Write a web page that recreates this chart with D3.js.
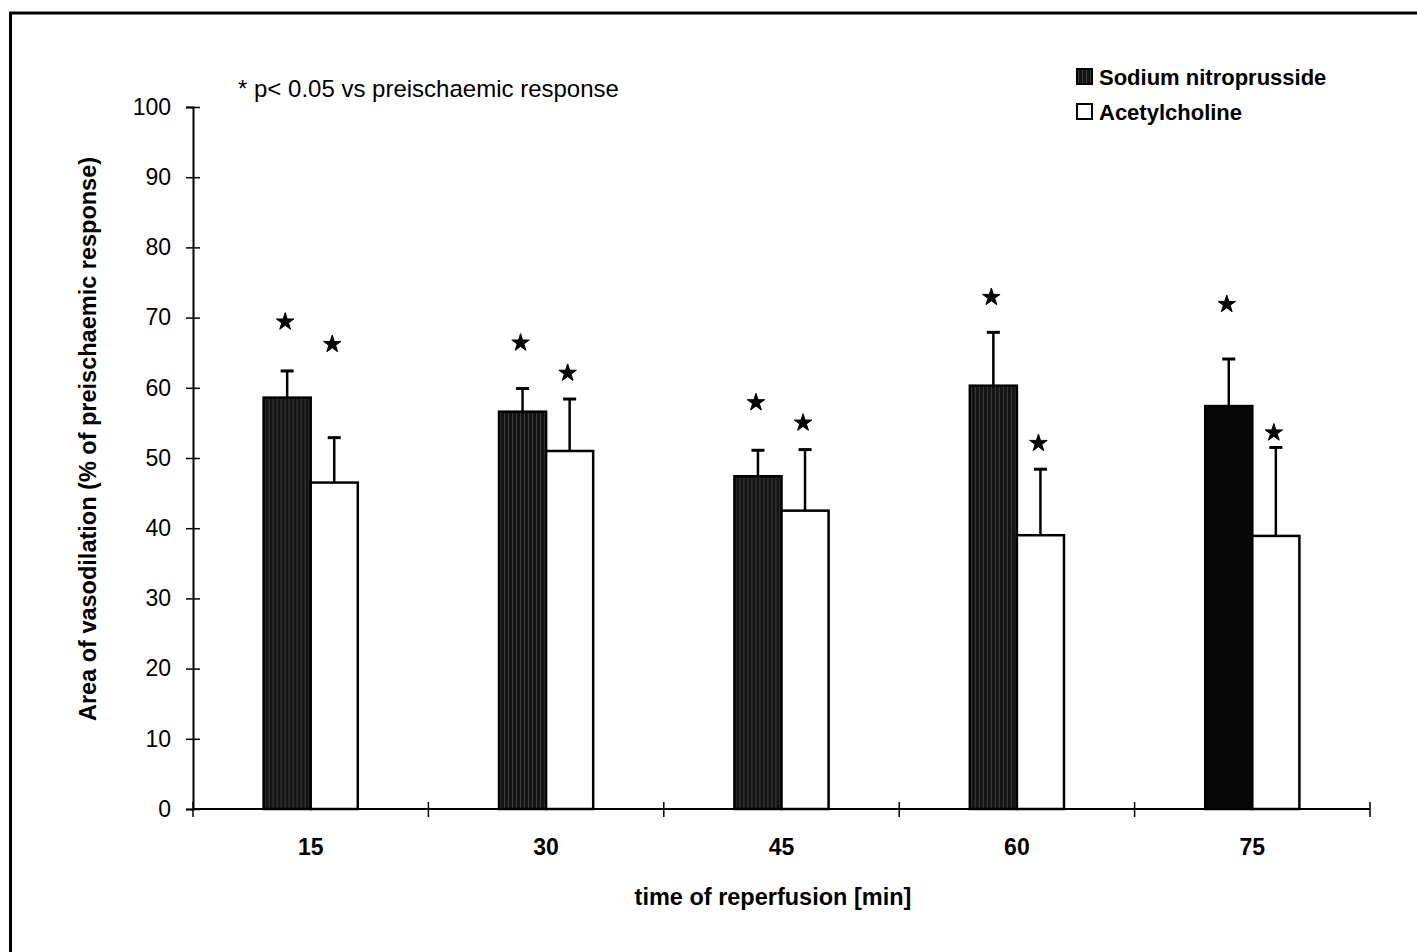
<!DOCTYPE html>
<html>
<head>
<meta charset="utf-8">
<script src="https://cdn.jsdelivr.net/npm/d3@7"></script>
<style>
  body { margin: 0; background: #fff; }
  svg { display: block; font-family: "Liberation Sans", Arial, sans-serif; }
</style>
</head>
<body>
<div id="chart"></div>
<script>
// values
var times = ["15", "30", "45", "60", "75"];
var seriesNames = ["Sodium nitroprusside", "Acetylcholine"];
var snpMean = [58.6, 56.6, 47.4, 60.3, 57.4];
var snpErr  = [62.4, 59.9, 51.1, 67.9, 64.1];   // top of error bar
var achMean = [46.5, 51.0, 42.5, 39.0, 38.9];
var achErr  = [52.9, 58.4, 51.2, 48.4, 51.5];
// where the significance stars sit (in % units)
var snpStar = [69.4, 66.4, 57.9, 72.9, 71.9];
var achStar = [66.2, 62.1, 55.0, 52.1, 53.6];
var yTicks = [0, 10, 20, 30, 40, 50, 60, 70, 80, 90, 100];

function drawChart(){
  var W = 1417, H = 952;
  var svg = d3.select("#chart").append("svg")
    .attr("width", W)
    .attr("height", H);

  // stripey dark fill like the scan
  var defs = svg.append("defs");
  var pat = defs.append("pattern")
    .attr("id", "snpFill")
    .attr("patternUnits", "userSpaceOnUse")
    .attr("width", 4).attr("height", 6);
  pat.append("rect").attr("width", 4).attr("height", 6).attr("fill", "#141414");
  pat.append("line").attr("x1", 1.5).attr("x2", 1.5).attr("y1", 0).attr("y2", 6)
    .attr("stroke", "#3d3d3d").attr("stroke-width", 1);

  // frame (top + left edge of the scanned box)
  svg.append("line").attr("x1", 9).attr("x2", W).attr("y1", 13).attr("y2", 13)
    .attr("stroke", "#000").attr("stroke-width", 3);
  svg.append("line").attr("x1", 10.5).attr("x2", 10.5).attr("y1", 12).attr("y2", H)
    .attr("stroke", "#000").attr("stroke-width", 3);

  var x0 = d3.scaleBand().domain(times).range([193, 1370]).padding(0);
  var y = d3.scaleLinear().domain([0, 100]).range([809, 107]);
  var barW = x0.bandwidth() / 5;   // excel gap width 300%

  var data = times.map(function(t, i){
    return {t: t, i: i,
      vals: [
        {s: 0, mean: snpMean[i], err: snpErr[i], star: snpStar[i]},
        {s: 1, mean: achMean[i], err: achErr[i], star: achStar[i]}
      ]};
  });

  // y axis
  var yAxis = svg.append("g")
    .attr("transform", "translate(193,0)")
    .call(d3.axisLeft(y).tickValues(yTicks).tickSize(7).tickPadding(15));
  yAxis.select(".domain").attr("stroke-width", 2);
  yAxis.selectAll(".tick line").attr("x2", 7).attr("x1", -7).attr("stroke-width", 1.5);
  yAxis.selectAll(".tick text")
    .style("font-size", "23px")
    .attr("fill", "#000");

  // x axis (ticks between categories)
  var xEdges = times.map(function(t){ return x0(t); }).concat([1370]);
  var xAxis = svg.append("g").attr("transform", "translate(0,809)");
  xAxis.append("line").attr("x1", 193).attr("x2", 1370).attr("stroke", "#000").attr("stroke-width", 2);
  xAxis.selectAll(".xt").data(xEdges).enter().append("line")
    .attr("x1", function(d){ return d; }).attr("x2", function(d){ return d; })
    .attr("y1", -7).attr("y2", 8)
    .attr("stroke", "#000").attr("stroke-width", 1.5);
  xAxis.selectAll(".xl").data(times).enter().append("text")
    .attr("x", function(d){ return x0(d) + x0.bandwidth() / 2; })
    .attr("y", 46)
    .attr("text-anchor", "middle")
    .style("font-size", "23px").style("font-weight", "bold")
    .text(function(d){ return d; });

  var groups = svg.selectAll(".grp").data(data).enter().append("g")
    .attr("class", "grp")
    .attr("transform", function(d){ return "translate(" + (x0(d.t) + x0.bandwidth() / 2 - barW) + ",0)"; });

  var bars = groups.selectAll(".bar").data(function(d){
      return d.vals.map(function(v){ v.i = d.i; return v; });
    }).enter().append("g");

  bars.append("rect")
    .attr("x", function(d){ return d.s * barW; })
    .attr("y", function(d){ return y(d.mean); })
    .attr("width", barW)
    .attr("height", function(d){ return y(0) - y(d.mean); })
    .attr("fill", function(d){
      if(d.s == 1) return "#fff";
      return d.i == 4 ? "#060606" : "url(#snpFill)";
    })
    .attr("stroke", "#000")
    .attr("stroke-width", 2.5);

  // error bars (upper only)
  bars.append("line")
    .attr("x1", function(d){ return d.s * barW + barW / 2; })
    .attr("x2", function(d){ return d.s * barW + barW / 2; })
    .attr("y1", function(d){ return y(d.mean); })
    .attr("y2", function(d){ return y(d.err); })
    .attr("stroke", "#000").attr("stroke-width", 2.5);
  bars.append("line")
    .attr("x1", function(d){ return d.s * barW + barW / 2 - 6.5; })
    .attr("x2", function(d){ return d.s * barW + barW / 2 + 6.5; })
    .attr("y1", function(d){ return y(d.err); })
    .attr("y2", function(d){ return y(d.err); })
    .attr("stroke", "#000").attr("stroke-width", 3);

  // significance stars
  var star = d3.symbol().type(d3.symbolStar).size(95);
  bars.append("path")
    .attr("d", star)
    .attr("transform", function(d){
      return "translate(" + (d.s * barW + barW / 2 - 2) + "," + y(d.star) + ")";
    })
    .attr("fill", "#000")
    .attr("stroke", "#000").attr("stroke-width", 1);

  // note
  svg.append("text")
    .attr("x", 238).attr("y", 97)
    .style("font-size", "24px")
    .text("* p< 0.05 vs preischaemic response");

  // legend
  var leg = svg.append("g").attr("transform", "translate(1077,69)");
  seriesNames.forEach(function(name, i){
    leg.append("rect")
      .attr("x", 0).attr("y", i * 35)
      .attr("width", 15).attr("height", 15)
      .attr("fill", i == 0 ? "url(#snpFill)" : "#fff")
      .attr("stroke", "#000").attr("stroke-width", 2);
    leg.append("text")
      .attr("x", 22).attr("y", i * 35 + 16)
      .style("font-size", "22px").style("font-weight", "bold")
      .text(name);
  });

  // axis titles
  svg.append("text")
    .attr("x", 773).attr("y", 905)
    .attr("text-anchor", "middle")
    .style("font-size", "23.5px").style("font-weight", "bold")
    .text("time of reperfusion [min]");

  svg.append("text")
    .attr("transform", "translate(96,439) rotate(-90)")
    .attr("text-anchor", "middle")
    .style("font-size", "23.5px").style("font-weight", "bold")
    .text("Area of vasodilation (% of preischaemic response)");
}

drawChart();
</script>
</body>
</html>
